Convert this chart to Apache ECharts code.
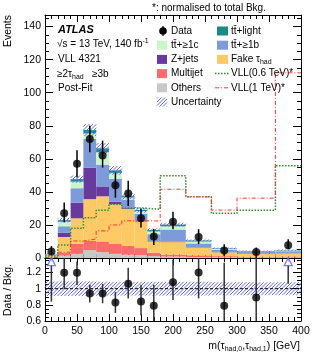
<!DOCTYPE html>
<html><head><meta charset="utf-8">
<script src="https://cdn.jsdelivr.net/npm/echarts@6/dist/echarts.min.js"></script>
<style>html,body{margin:0;padding:0;background:#fff}#c{width:317px;height:358px}</style>
</head><body><div id="c"></div>
<script>
// ---------------- data ----------------
const binEdges = [0,20,40,60,80,100,120,140,160,180,220,260,300,360,400];
const others   = [0.5,1.4,2.5,4.7,3.5,2.5,2.0,1.8,1.2,0.9,0.6,0.4,0.3,0.3];
const multijet = [0.3,1.8,6.0,5.6,6.5,6.2,5.3,4.2,2.0,1.2,1.0,0.7,0.5,0.6];
const fakeTau  = [0.8,9.5,15.5,25.3,27.3,23.8,22.5,16.0,6.5,7.5,4.5,2.3,1.6,1.8];
const zjets    = [0.1,2.5,9.5,19.1,6.0,1.5,0.5,0.3,0.2,0.3,0.1,0.1,0.1,0.1];
const ttb      = [0.5,4.0,8.7,17.3,13.2,14.0,4.8,4.5,4.5,7.3,2.6,1.5,1.1,1.3];
const ttc      = [0.2,2.8,4.0,3.4,7.5,3.5,1.5,1.6,1.7,2.0,1.2,0.6,0.4,0.5];
const ttlight  = [0.1,0.9,1.5,2.0,2.3,1.5,0.8,0.7,0.8,1.0,0.6,0.3,0.2,0.2];
const bkgUnc   = [0.3,1.4,2.2,3.6,3.2,2.6,2.0,1.6,1.0,1.1,0.6,0.4,0.3,0.4];
const vll06    = [1.2,7.9,18.0,24.4,28.9,32.5,30.3,30.0,29.5,49.7,37.0,27.0,28.9,55.8];
const vll1     = [0.3,3.5,10.3,11.5,16.4,20.0,22.5,22.5,22.4,41.6,37.0,29.0,36.2,112.0];
const dataVal  = [4,27,57,72,62,44,39,24,13,22,12.7,4.6,3.6,7.7];
const dataErrLo= [1.9,5.4,8.3,8.0,7.3,7.5,7.5,5.6,5.1,4.6,4.2,3.4,3.6,2.4];
const dataErrHi= [3.2,6.5,8.2,8.0,9.0,7.7,7.7,5.7,4.6,6.0,4.7,3.7,2.7,3.6];
const ratioVal = [null,1.196,1.196,0.94,0.94,0.83,1.06,0.84,0.79,1.08,1.20,0.79,0.89,null];
const ratioErrLo=[null,0.20,0.15,0.11,0.12,0.13,0.18,0.17,0.25,0.22,0.32,0.50,0.80,null];
const ratioErrHi=[null,0.20,0.14,0.11,0.12,0.13,0.20,0.21,0.26,0.28,0.35,0.53,0.90,null];
const ratioArrowX  = [10,380];
const ratioArrowLow= [0.84,1.06];
const ratioUnc = [0.09,0.09,0.09,0.09,0.085,0.085,0.085,0.085,0.085,0.085,0.085,0.08,0.08,0.08];
const xTicks = [0,50,100,150,200,250,300,350,400];

// ---------------- styling ----------------
const font = '"Liberation Sans", Arial, Helvetica, sans-serif';
const colOthers='#c8c8c8', colMulti='#ff6b6b', colFake='#ffc965', colZ='#683a9e', colB='#7c9bd8', colC='#c9f7c9', colL='#1a8a82';
const hatchColor = '#6464ff';
const HS = 3.5;

// diagonal "/" hatch lines clipped to a rectangle (pixel coords)
function hatchLines(x0, y0, w, h, z){
  const x1=x0+w, y1=y0+h, out=[];
  const cStart = Math.ceil((x0+y0)/HS)*HS;
  for (let c=cStart; c<=x1+y1; c+=HS){
    const xa=Math.max(x0, c-y1), xb=Math.min(x1, c-y0);
    if (xb<=xa) continue;
    out.push({type:'line', z:z, shape:{x1:xa, y1:c-xa, x2:xb, y2:c-xb}, style:{stroke:hatchColor, lineWidth:1}});
  }
  return out;
}

const nb = dataVal.length;
const comps = [others, multijet, fakeTau, zjets, ttb, ttc, ttlight];
const compCols = [colOthers, colMulti, colFake, colZ, colB, colC, colL];
const cum = new Array(nb).fill(0);
const stackSeries = [];
comps.forEach((arr, k) => {
  const d = [];
  for (let i=0;i<nb;i++){ d.push([binEdges[i], binEdges[i+1], cum[i], cum[i]+arr[i]]); cum[i]+=arr[i]; }
  stackSeries.push({type:'custom', xAxisIndex:0, yAxisIndex:0, data:d, z:2, silent:true,
    renderItem: rectRender(compCols[k])});
});
const total = cum.slice();

function rectRender(fill){
  return function(params, api){
    const p0 = api.coord([api.value(0), api.value(3)]);
    const p1 = api.coord([api.value(1), api.value(2)]);
    return {type:'rect', shape:{x:p0[0], y:p0[1], width:p1[0]-p0[0], height:p1[1]-p0[1]}, style:{fill:fill}};
  };
}
function hatchRender(params, api){
  const p0 = api.coord([api.value(0), api.value(3)]);
  const p1 = api.coord([api.value(1), api.value(2)]);
  return {type:'group', children:hatchLines(p0[0], p0[1], p1[0]-p0[0], p1[1]-p0[1])};
}
function stepData(vals){
  const d=[];
  for (let i=0;i<vals.length;i++){ d.push([binEdges[i], vals[i]]); d.push([binEdges[i+1], vals[i]]); }
  return d;
}
const centers = []; for (let i=0;i<nb;i++) centers.push((binEdges[i]+binEdges[i+1])/2);

const RMIN=0.6, RMAX=1.38, YMAX=147;
function errRender(ymin, ymax, color, w){
  return function(params, api){
    let lo=api.value(1), hi=api.value(2);
    lo=Math.max(lo,ymin); hi=Math.min(hi,ymax);
    const a=api.coord([api.value(0), lo]), b=api.coord([api.value(0), hi]);
    return {type:'line', shape:{x1:a[0],y1:a[1],x2:b[0],y2:b[1]}, style:{stroke:color, lineWidth:w}};
  };
}

const mainErr=[], ratioErr=[], ratioPts=[], dataPts=[], mainBand=[], ratioBand=[];
for (let i=0;i<nb;i++){
  dataPts.push([centers[i], dataVal[i]]);
  mainErr.push([centers[i], dataVal[i]-dataErrLo[i], dataVal[i]+dataErrHi[i]]);
  mainBand.push([binEdges[i], binEdges[i+1], total[i]-bkgUnc[i], total[i]+bkgUnc[i]]);
  ratioBand.push([binEdges[i], binEdges[i+1], 1-ratioUnc[i], 1+ratioUnc[i]]);
  if (ratioVal[i]!==null){
    ratioPts.push([centers[i], ratioVal[i]]);
    ratioErr.push([centers[i], ratioVal[i]-ratioErrLo[i], ratioVal[i]+ratioErrHi[i]]);
  }
}
const arrowTop = RMAX-0.08;
ratioArrowX.forEach((x,k)=>{ ratioErr.push([x, ratioArrowLow[k], arrowTop]); });

function xAx(grid, pos, showLabel){
  return {type:'value', gridIndex:grid, position:pos, min:0, max:400, interval:50,
    axisLine:{show:true, onZero:false, lineStyle:{color:'#000', width:1}},
    axisTick:{show:true, inside:true, length:7, lineStyle:{color:'#000'}},
    minorTick:{show:true, splitNumber:5, length:4, lineStyle:{color:'#000'}},
    axisLabel:{show:showLabel, color:'#000', fontSize:10.5, fontFamily:font, margin:5},
    splitLine:{show:false}, minorSplitLine:{show:false}};
}
function yAx(grid, pos, min, max, interval, showLabel, fmt){
  return {type:'value', gridIndex:grid, position:pos, min:min, max:max, interval:interval,
    axisLine:{show:true, onZero:false, lineStyle:{color:'#000', width:1}},
    axisTick:{show:true, inside:true, length:8, lineStyle:{color:'#000'}},
    minorTick:{show:true, splitNumber:4, length:4, lineStyle:{color:'#000'}},
    axisLabel:{show:showLabel, color:'#000', fontSize:10.5, fontFamily:font, margin:4, showMaxLabel:false, formatter:fmt},
    splitLine:{show:false}, minorSplitLine:{show:false}};
}

const chart = echarts.init(document.getElementById('c'), null, {renderer:'canvas'});

const gx = [];
function txt(x,y,text,opts){
  return {type:'text', x:x, y:y, z:100, style:Object.assign({text:text, fill:'#000', font:'10px '+font, textAlign:'left', textVerticalAlign:'middle'}, opts||{})};
}
const subRich = {
  n:{fontSize:10, fontFamily:font, fill:'#000', lineHeight:12},
  s:{fontSize:7, fontFamily:font, fill:'#000', lineHeight:12, padding:[6,0,0,0]}
};
const rows=[31,45.2,59.4,73.6,87.8,102];
const lx=157, ltx=171, rx=217, rtx=231;
gx.push(txt(152,8,'*: normalised to total Bkg.'));
gx.push(txt(58,30,'ATLAS',{font:'italic bold 11px '+font}));
gx.push({type:'text', x:57, y:44, z:100, style:{text:'{n|\u221As = 13 TeV, 140 fb}{u|-1}', textVerticalAlign:'middle',
  rich:{n:{fontSize:10,fontFamily:font,fill:'#000',lineHeight:12}, u:{fontSize:7,fontFamily:font,fill:'#000',lineHeight:12,padding:[0,0,6,0]}}}});
gx.push(txt(58,59.5,'VLL 4321'));
gx.push({type:'text', x:57, y:74, z:100, style:{text:'{n|\u22652\u03C4}{s|had}{n|   \u22653b}', textVerticalAlign:'middle', rich:subRich}});
gx.push(txt(58,88,'Post-Fit'));
gx.push({type:'circle', z:100, shape:{cx:163, cy:rows[0], r:3.8}, style:{fill:'#000'}});
gx.push({type:'line', z:100, shape:{x1:163,y1:rows[0]-5,x2:163,y2:rows[0]+5}, style:{stroke:'#000', lineWidth:1.2}});
gx.push(txt(ltx,rows[0],'Data'));
const leftBoxes=[[colC,'tt\u0304+\u22651c'],[colZ,'Z+jets'],[colMulti,'Multijet'],[colOthers,'Others']];
leftBoxes.forEach((b,k)=>{
  gx.push({type:'rect', z:100, shape:{x:lx,y:rows[k+1]-4.5,width:10,height:9}, style:{fill:b[0]}});
  gx.push(txt(ltx,rows[k+1],b[1]));
});
hatchLines(lx, rows[5]-4.5, 10, 9, 100).forEach(l=>gx.push(l));
gx.push(txt(ltx,rows[5],'Uncertainty'));
const rightBoxes=[[colL,'tt\u0304+light'],[colB,'tt\u0304+\u22651b']];
rightBoxes.forEach((b,k)=>{
  gx.push({type:'rect', z:100, shape:{x:rx,y:rows[k]-4.5,width:11,height:9}, style:{fill:b[0]}});
  gx.push(txt(rtx,rows[k],b[1]));
});
gx.push({type:'rect', z:100, shape:{x:rx,y:rows[2]-4.5,width:11,height:9}, style:{fill:colFake}});
gx.push({type:'text', x:rtx, y:rows[2], z:100, style:{text:'{n|Fake \u03C4}{s|had}', textVerticalAlign:'middle', rich:subRich}});
gx.push({type:'line', z:100, shape:{x1:215,y1:rows[3],x2:229,y2:rows[3]}, style:{stroke:'#2e8b2e', lineWidth:1.5, lineDash:[1.5,1.5]}});
gx.push(txt(rtx,rows[3],'VLL(0.6 TeV)*'));
gx.push({type:'line', z:100, shape:{x1:215,y1:rows[4],x2:229,y2:rows[4]}, style:{stroke:'#ff3333', lineWidth:1, lineDash:[4,2,1,2]}});
gx.push(txt(rtx,rows[4],'VLL(1 TeV)*'));
gx.push({type:'text', x:8, y:15, rotation:Math.PI/2, z:100, style:{text:'Events', font:'10.5px '+font, fill:'#000', textAlign:'right', textVerticalAlign:'middle'}});
gx.push({type:'text', x:8, y:290, rotation:Math.PI/2, z:100, style:{text:'Data / Bkg.', font:'10.5px '+font, fill:'#000', textAlign:'center', textVerticalAlign:'middle'}});
gx.push({type:'text', x:300, y:346, z:100, style:{text:'{n|m(\u03C4}{s|had,0}{n|,\u03C4}{s|had,1}{n|) [GeV]}', textAlign:'right', textVerticalAlign:'middle',
  rich:{n:{fontSize:10.5,fontFamily:font,fill:'#000',lineHeight:13}, s:{fontSize:7,fontFamily:font,fill:'#000',lineHeight:13,padding:[6,0,0,0]}}}});

const series = stackSeries.concat([
  {type:'custom', xAxisIndex:0, yAxisIndex:0, data:mainBand, z:3, silent:true, renderItem: hatchRender},
  {type:'line', xAxisIndex:0, yAxisIndex:0, data:stepData(vll06), z:4, symbol:'none', silent:true, clip:true,
    lineStyle:{color:'#2e8b2e', width:1.5, type:[1.5,1.5]}},
  {type:'line', xAxisIndex:0, yAxisIndex:0, data:stepData(vll1), z:4, symbol:'none', silent:true, clip:true,
    lineStyle:{color:'#ff3333', width:1, type:[4,2,1,2]}},
  {type:'custom', xAxisIndex:0, yAxisIndex:0, data:mainErr, z:5, silent:true, renderItem: errRender(0, YMAX, '#000', 1.5)},
  {type:'scatter', xAxisIndex:0, yAxisIndex:0, data:dataPts, z:6, symbol:'circle', symbolSize:8, itemStyle:{color:'#000'}, silent:true},
  {type:'custom', xAxisIndex:2, yAxisIndex:2, data:ratioBand, z:3, silent:true, renderItem: hatchRender},
  {type:'line', xAxisIndex:2, yAxisIndex:2, data:[[0,1],[400,1]], z:4, symbol:'none', silent:true,
    lineStyle:{color:'#000', width:1, type:[3,2]}},
  {type:'custom', xAxisIndex:2, yAxisIndex:2, data:ratioErr, z:5, silent:true, renderItem: errRender(RMIN, RMAX, '#333', 1.5)},
  {type:'scatter', xAxisIndex:2, yAxisIndex:2, data:ratioPts, z:6, symbol:'circle', symbolSize:8, itemStyle:{color:'#000'}, silent:true},
  {type:'scatter', xAxisIndex:2, yAxisIndex:2, data:ratioArrowX.map(x=>[x, arrowTop+0.035]), z:6, symbol:'triangle', symbolSize:[8,8],
    itemStyle:{color:'#fff', borderColor:'#5b5bff', borderWidth:1.3}, silent:true}
]);

chart.setOption({
  animation:false,
  backgroundColor:'#fff',
  grid:[{left:45, top:15, width:256, height:243}, {left:45, top:258, width:256, height:63}],
  xAxis:[xAx(0,'bottom',false), xAx(0,'top',false), xAx(1,'bottom',true), xAx(1,'top',false)],
  yAxis:[yAx(0,'left',0,YMAX,20,true), yAx(0,'right',0,YMAX,20,false),
         yAx(1,'left',RMIN,RMAX,0.2,true, v=>String(+v.toFixed(2))), yAx(1,'right',RMIN,RMAX,0.2,false)],
  series:series,
  graphic:gx
});
</script>
</body></html>
